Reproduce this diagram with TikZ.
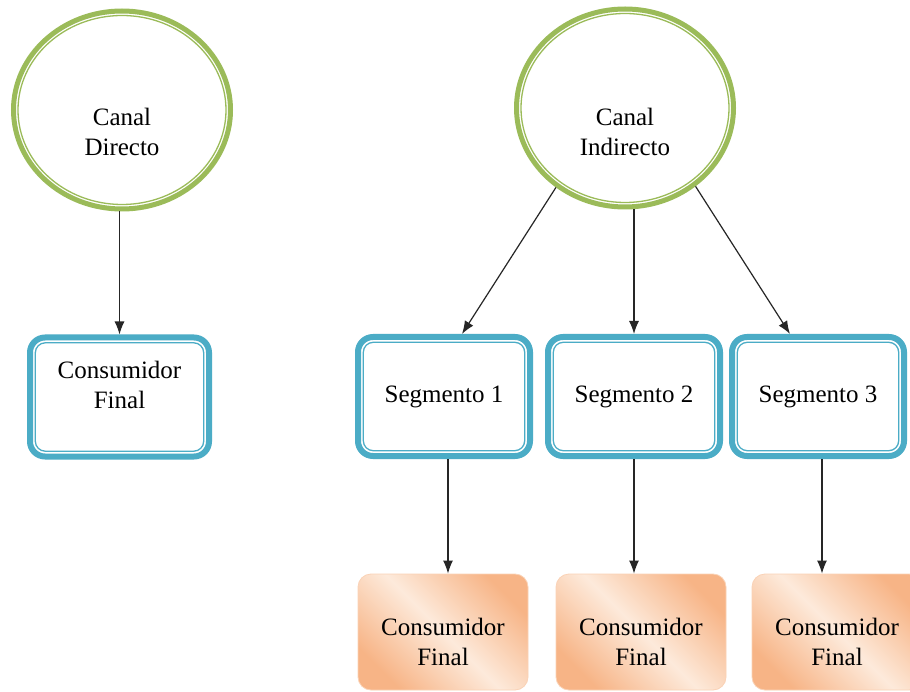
\documentclass[tikz,border=0pt]{standalone}
\usepackage{fontspec}
\setmainfont{Liberation Serif}
\usetikzlibrary{shapes,arrows.meta}

\definecolor{canalgreen}{HTML}{9BBB59}
\definecolor{segblue}{HTML}{4BACC6}
\definecolor{consdark}{HTML}{F7B486}
\definecolor{conslight}{HTML}{FDEADB}

\tikzset{
  canal/.style={ellipse, draw=canalgreen, line width=5pt, fill=white,
    minimum width=217pt, minimum height=198pt, inner sep=0pt,
    path picture={\draw[canalgreen, line width=1.3pt]
      (path picture bounding box.center) ellipse [x radius=104pt, y radius=94.5pt];}},
  segbox/.style={rectangle, draw=segblue, line width=6pt, rounded corners=15pt,
    fill=white, minimum width=172pt, minimum height=119pt, inner sep=0pt,
    path picture={\draw[segblue, line width=1.3pt, rounded corners=10pt]
      ([shift={(5.3pt,-5.3pt)}]path picture bounding box.north west) rectangle
      ([shift={(-5.3pt,5.3pt)}]path picture bounding box.south east);}},
  consbox/.style={rectangle, draw=consdark!60, line width=0.8pt, rounded corners=13pt,
    left color=consdark, right color=consdark, middle color=conslight,
    shading angle=-45, minimum width=170pt, minimum height=116pt, inner sep=0pt},
  txt/.style={align=center, font=\fontsize{25}{30}\selectfont},
  arr/.style={draw=black!85, line width=1.2pt, -{Latex[length=13pt,width=10pt]}}
}

\begin{document}
\begin{tikzpicture}[x=1pt,y=-1pt]
\clip (0,0) rectangle (910,692);
\fill[white] (0,0) rectangle (910,692);

% canales
\node[canal, label={[txt,yshift=-22pt]center:Canal\\Directo}] (cd) at (122,110) {};
\node[canal, label={[txt,yshift=-24pt]center:Canal\\Indirecto}] (ci) at (625,108) {};

% segmentos
\node[segbox, minimum width=179pt, label={[txt,yshift=12pt]center:Consumidor\\Final}] (cf) at (119.5,397) {};
\node[segbox, txt] (s1) at (444,396.5) {Segmento 1};
\node[segbox, txt] (s2) at (634,396.5) {Segmento 2};
\node[segbox, txt] (s3) at (818,396.5) {Segmento 3};

% consumidores finales
\node[consbox, label={[txt,yshift=-10pt]center:Consumidor\\Final}] (o1) at (443,632) {};
\node[consbox, label={[txt,yshift=-10pt]center:Consumidor\\Final}] (o2) at (641,632) {};
\node[consbox, label={[txt,yshift=-10pt]center:Consumidor\\Final}] (o3) at (837,632) {};

\draw[arr] (cf.north |- cd.south) -- (cf.north);
\draw[arr] (ci.229) -- ([xshift=18pt]s1.north);
\draw[arr] (s2.north |- ci.south) -- (s2.north);
\draw[arr] (ci.312) -- ([xshift=-28pt]s3.north);
\draw[arr] ([xshift=4pt]s1.south) -- ([xshift=4pt]s1.south |- o1.north);
\draw[arr] (s2.south) -- (s2.south |- o2.north);
\draw[arr] ([xshift=4pt]s3.south) -- ([xshift=4pt]s3.south |- o3.north);
\end{tikzpicture}
\end{document}
